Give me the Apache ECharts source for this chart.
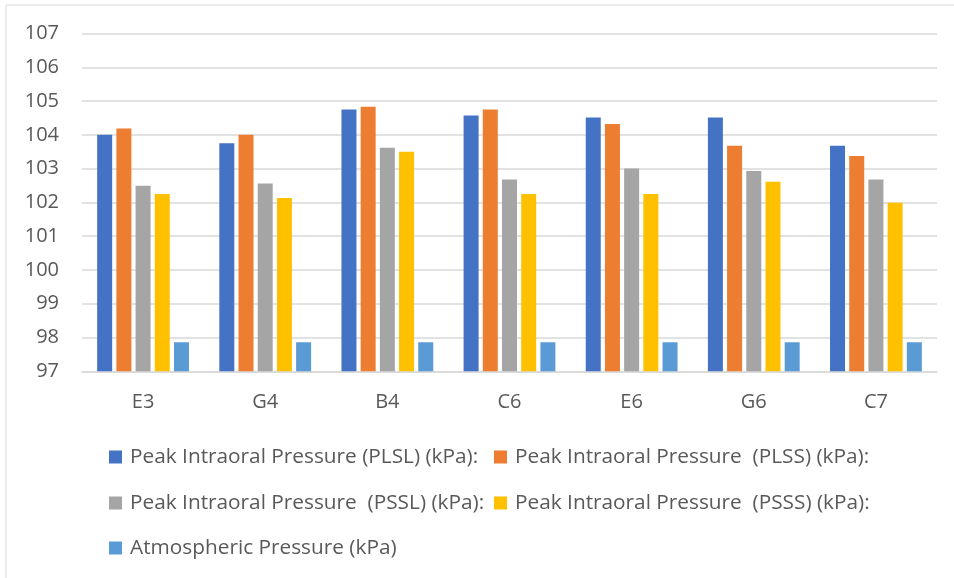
<!DOCTYPE html>
<html>
<head>
<meta charset="utf-8">
<script src="https://cdn.jsdelivr.net/npm/echarts@6/dist/echarts.min.js"></script>
<style>
  html, body { margin: 0; padding: 0; background: #ffffff; }
  #chart { width: 954px; height: 578px; }
</style>
</head>
<body>
<div id="chart"></div>
<script>
// Tone positions on the x axis
var categories = ['E3', 'G4', 'B4', 'C6', 'E6', 'G6', 'C7'];

// Series names as shown in the legend
var seriesNames = [
  'Peak Intraoral Pressure (PLSL) (kPa):',
  'Peak Intraoral Pressure  (PLSS) (kPa):',
  'Peak Intraoral Pressure  (PSSL) (kPa):',
  'Peak Intraoral Pressure  (PSSS) (kPa):',
  'Atmospheric Pressure (kPa)'
];

// Pressure values (kPa) per tone
var plsl = [104.0, 103.75, 104.75, 104.57, 104.51, 104.51, 103.68];
var plss = [104.19, 104.0, 104.83, 104.75, 104.32, 103.68, 103.37];
var pssl = [102.49, 102.56, 103.62, 102.68, 103.0, 102.93, 102.68];
var psss = [102.25, 102.13, 103.5, 102.25, 102.25, 102.61, 101.99];
var atmospheric = [97.86, 97.86, 97.86, 97.86, 97.86, 97.86, 97.86];

// Value axis range
var yMin = 97, yMax = 107, yStep = 1;

var colors = ['#4472C4', '#ED7D31', '#A5A5A5', '#FFC000', '#5B9BD5'];
var seriesData = [plsl, plss, pssl, psss, atmospheric];

var FONT = 'Open Sans';
var TEXT_COLOR = '#595959';
var AXIS_FS = 20;
var LEGEND_FS = 20.8;

var chart = echarts.init(document.getElementById('chart'), null, { renderer: 'canvas' });

// One legend entry placed at a fixed spot (two columns, three rows)
function legendAt(name, left, top) {
  return {
    data: [name],
    left: left,
    top: top,
    orient: 'horizontal',
    itemWidth: 13,
    itemHeight: 13,
    icon: 'rect',
    selectedMode: false,
    padding: 0,
    textStyle: {
      fontFamily: FONT,
      fontSize: LEGEND_FS,
      color: TEXT_COLOR,
      padding: [0, 0, 0, 3]
    }
  };
}

var option = {
  animation: false,
  backgroundColor: '#ffffff',
  color: colors,
  graphic: [{
    type: 'rect',
    shape: { x: 6, y: 5, width: 1000, height: 700 },
    style: { fill: 'none', stroke: '#d9d9d9', lineWidth: 1 },
    silent: true,
    z: -1
  }],
  grid: { left: 82, right: 17, top: 33.5, bottom: 206.7, containLabel: false },
  legend: [
    legendAt(seriesNames[0], 109, 446.5),
    legendAt(seriesNames[1], 494, 446.5),
    legendAt(seriesNames[2], 109, 492.5),
    legendAt(seriesNames[3], 494, 492.5),
    legendAt(seriesNames[4], 109, 537.5)
  ],
  xAxis: {
    type: 'category',
    data: categories,
    axisLine: { show: true, lineStyle: { color: '#d9d9d9', width: 1.5 } },
    axisTick: { show: false },
    axisLabel: { fontFamily: FONT, fontSize: AXIS_FS, color: TEXT_COLOR, margin: 21 },
    splitLine: { show: false }
  },
  yAxis: {
    type: 'value',
    min: yMin,
    max: yMax,
    interval: yStep,
    axisLine: { show: false },
    axisTick: { show: false },
    axisLabel: { fontFamily: FONT, fontSize: AXIS_FS, color: TEXT_COLOR, margin: 23 },
    splitLine: { lineStyle: { color: '#d9d9d9', width: 1.5 } }
  },
  series: seriesData.map(function (d, i) {
    return {
      name: seriesNames[i],
      type: 'bar',
      data: d,
      barWidth: 15,
      barGap: '28%',
      itemStyle: { color: colors[i] }
    };
  })
};

chart.setOption(option);
</script>
</body>
</html>
